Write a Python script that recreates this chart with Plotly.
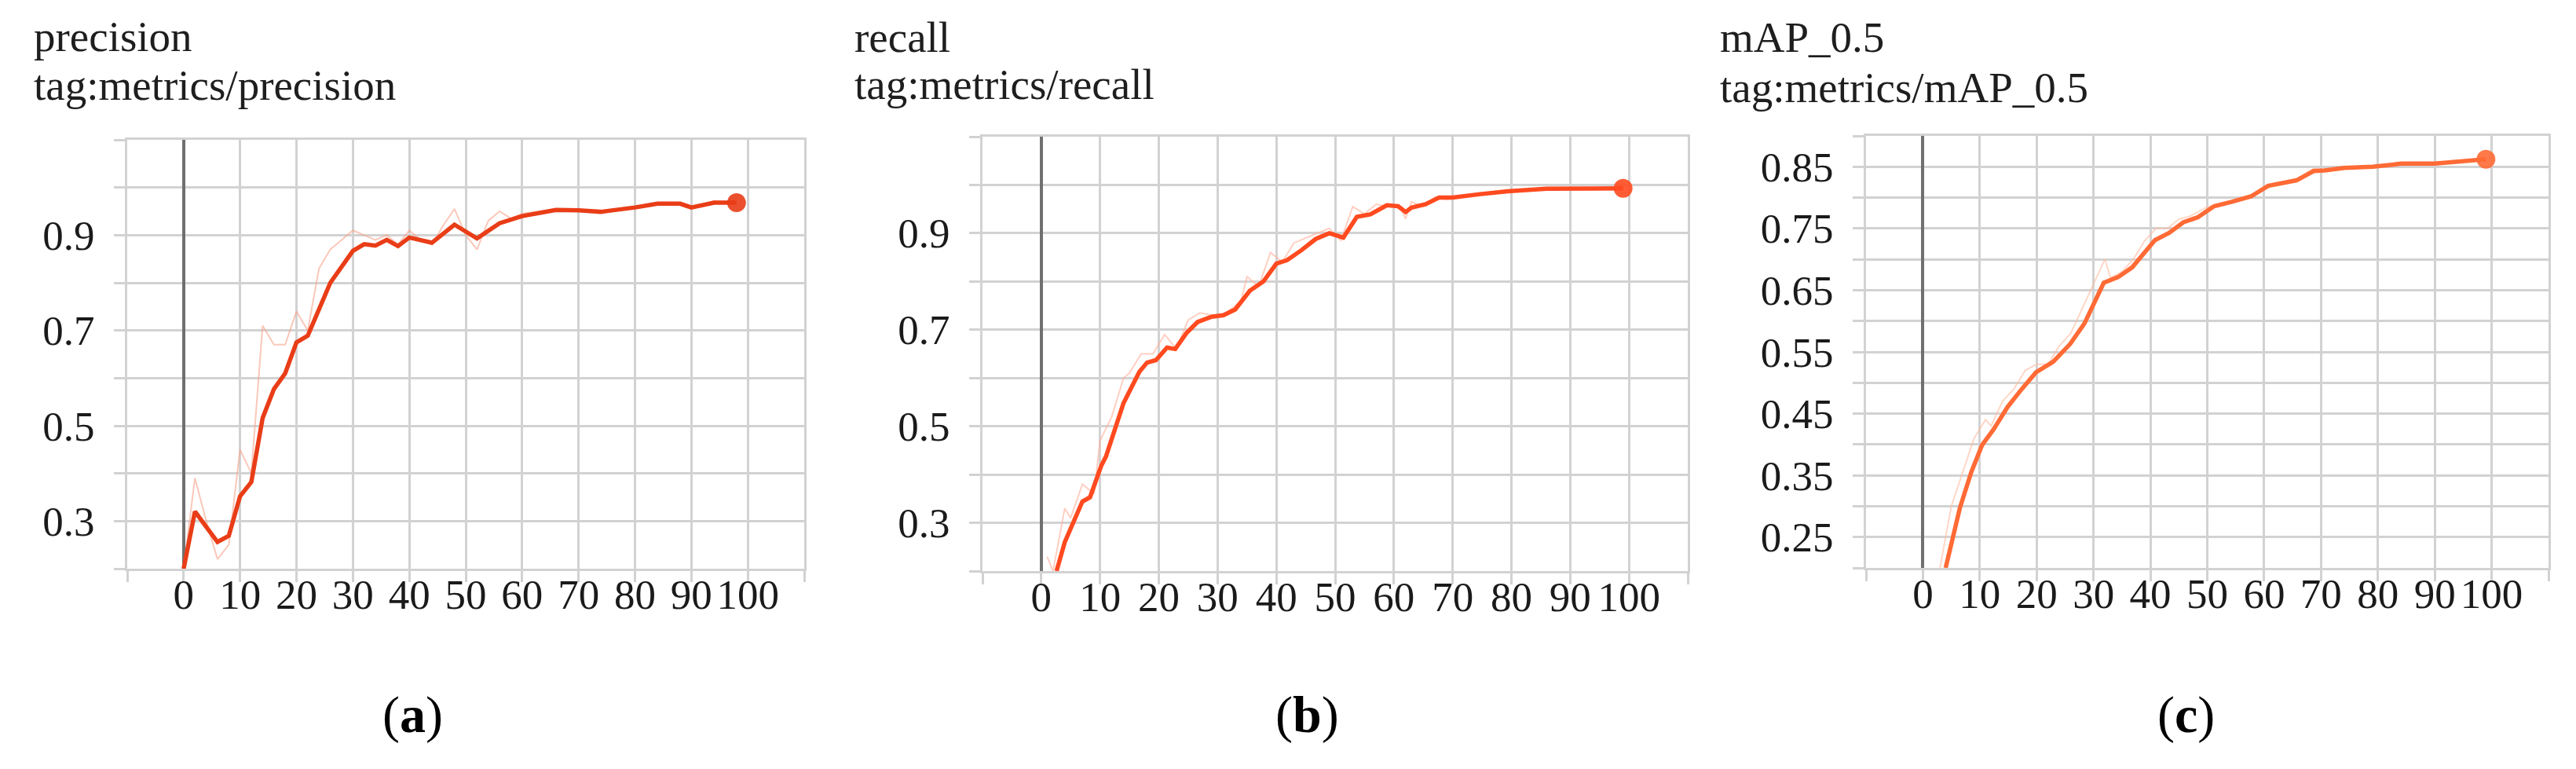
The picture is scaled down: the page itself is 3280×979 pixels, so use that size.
import plotly.graph_objects as go

W, H = 3280, 979

# ---------------- data ----------------
# (a) precision
prec_epoch = [0, 2, 6, 8, 10, 12, 14, 16, 18, 20, 22, 26, 30, 32, 34, 36, 38, 40, 44, 48, 52, 56, 60, 66, 70, 74, 80, 84, 88, 90, 94, 98]
prec_smooth = [0.20, 0.32, 0.256, 0.269, 0.352, 0.382, 0.516, 0.577, 0.61, 0.675, 0.689, 0.80, 0.867, 0.881, 0.878, 0.89, 0.877, 0.895, 0.884, 0.922, 0.893, 0.925, 0.94, 0.953, 0.952, 0.949, 0.958, 0.966, 0.966, 0.958, 0.968, 0.968]
prec_raw_epoch = [0, 2, 4, 6, 8, 10, 12, 14, 16, 18, 20, 22, 24, 26, 28, 30, 32, 34, 36, 38, 40, 42, 44, 46, 48, 50, 52, 54, 56, 58, 60, 66, 70, 74, 80, 84, 88, 90, 94, 98]
prec_raw = [0.20, 0.39, 0.30, 0.22, 0.25, 0.45, 0.40, 0.71, 0.67, 0.67, 0.74, 0.70, 0.83, 0.87, 0.89, 0.91, 0.90, 0.89, 0.90, 0.88, 0.91, 0.89, 0.88, 0.92, 0.955, 0.90, 0.87, 0.93, 0.95, 0.935, 0.945, 0.955, 0.95, 0.945, 0.96, 0.968, 0.964, 0.955, 0.972, 0.97]

# (b) recall
rec_epoch = [2.6, 4, 7, 8.3, 10.2, 11, 14, 16.7, 18, 19.5, 21.4, 22.8, 24.7, 26.6, 29, 31, 33, 35.5, 37.8, 40, 41.8, 44.3, 46.7, 49, 51.4, 53.7, 56, 58.8, 60.7, 62, 63, 65.4, 67.7, 70, 74.7, 79.4, 86, 90.6, 99]
rec_smooth = [0.20, 0.26, 0.344, 0.353, 0.418, 0.437, 0.548, 0.613, 0.632, 0.637, 0.663, 0.66, 0.693, 0.716, 0.727, 0.73, 0.742, 0.781, 0.80, 0.837, 0.844, 0.865, 0.888, 0.90, 0.891, 0.934, 0.939, 0.958, 0.956, 0.944, 0.953, 0.96, 0.974, 0.974, 0.981, 0.987, 0.992, 0.993, 0.993]
rec_raw_epoch = [1, 2, 4, 5, 7, 9, 10, 12, 14, 15, 17, 19, 21, 23, 25, 27, 29, 31, 34, 35, 37, 39, 41, 43, 45, 47, 49, 51, 53, 55, 57, 59, 61, 62, 63, 65, 67, 69, 74.7, 79.4, 86, 90.6, 99]
rec_raw = [0.23, 0.20, 0.33, 0.31, 0.38, 0.36, 0.47, 0.52, 0.60, 0.61, 0.65, 0.65, 0.69, 0.66, 0.72, 0.735, 0.73, 0.73, 0.76, 0.81, 0.79, 0.86, 0.84, 0.88, 0.89, 0.90, 0.91, 0.885, 0.955, 0.94, 0.96, 0.955, 0.955, 0.93, 0.965, 0.955, 0.975, 0.97, 0.982, 0.988, 0.992, 0.993, 0.993]

# (c) mAP_0.5
map_epoch = [4, 6.5, 8.5, 10.4, 12.4, 14.9, 17.4, 19.9, 22.9, 25.9, 28.4, 30.3, 31.8, 34.3, 36.8, 38.8, 40.8, 43.3, 45.8, 48.3, 51.2, 54.2, 57.7, 60.7, 63.2, 65.7, 68.7, 70.6, 74.1, 79.1, 84.1, 90, 99]
map_smooth = [0.20, 0.297, 0.355, 0.399, 0.424, 0.461, 0.49, 0.517, 0.534, 0.563, 0.596, 0.632, 0.662, 0.671, 0.687, 0.709, 0.731, 0.743, 0.76, 0.768, 0.786, 0.793, 0.802, 0.819, 0.824, 0.828, 0.843, 0.844, 0.848, 0.85, 0.855, 0.855, 0.862]
map_raw_epoch = [3, 5, 7, 9, 11, 12, 14, 16, 18, 20, 22, 24, 26, 28, 30, 32, 33, 35, 37, 39, 41, 43, 45, 47, 50, 53, 57.7, 60.7, 63.2, 65.7, 68.7, 70.6, 74.1, 79.1, 84.1, 90, 99]
map_raw = [0.20, 0.30, 0.355, 0.41, 0.44, 0.43, 0.47, 0.49, 0.52, 0.53, 0.53, 0.56, 0.58, 0.62, 0.66, 0.70, 0.67, 0.68, 0.70, 0.73, 0.75, 0.75, 0.765, 0.77, 0.785, 0.79, 0.803, 0.82, 0.825, 0.83, 0.847, 0.845, 0.848, 0.851, 0.856, 0.856, 0.862]

# axis ticks
x_tick_vals = [-10, 0, 10, 20, 30, 40, 50, 60, 70, 80, 90, 100, 110]
x_tick_text = ["", "0", "10", "20", "30", "40", "50", "60", "70", "80", "90", "100", ""]
y_ab_vals = [0.2, 0.3, 0.4, 0.5, 0.6, 0.7, 0.8, 0.9, 1.0, 1.1]
y_ab_text = ["", "0.3", "", "0.5", "", "0.7", "", "0.9", "", ""]
y_c_vals = [0.2, 0.25, 0.3, 0.35, 0.4, 0.45, 0.5, 0.55, 0.6, 0.65, 0.7, 0.75, 0.8, 0.85, 0.9]
y_c_text = ["", "0.25", "", "0.35", "", "0.45", "", "0.55", "", "0.65", "", "0.75", "", "0.85", ""]

panel_titles = [("precision", "tag:metrics/precision"), ("recall", "tag:metrics/recall"), ("mAP_0.5", "tag:metrics/mAP_0.5")]
panel_labels = ["(<b>a</b>)", "(<b>b</b>)", "(<b>c</b>)"]

# ---------------- layout geometry (pixels) ----------------
def px(x):
    return x / W

def py(y):
    return 1 - y / H

panels = [
    dict(x0=154, x1=1016, y0=170, y1=716, yr=[0.2, 1.1], yv=y_ab_vals, yt=y_ab_text,
         ex=prec_epoch, ey=prec_smooth, rx=prec_raw_epoch, ry=prec_raw,
         color="#e93d17", raw="#f7a48c", tx=33, ty1=38, ty2=101, lab=517),
    dict(x0=1243, x1=2141, y0=166, y1=719, yr=[0.2, 1.1], yv=y_ab_vals, yt=y_ab_text,
         ex=rec_epoch, ey=rec_smooth, rx=rec_raw_epoch, ry=rec_raw,
         color="#ff4a1f", raw="#ffb09a", tx=1078, ty1=39, ty2=100, lab=1656),
    dict(x0=2368, x1=3237, y0=165, y1=715, yr=[0.2, 0.9], yv=y_c_vals, yt=y_c_text,
         ex=map_epoch, ey=map_smooth, rx=map_raw_epoch, ry=map_raw,
         color="#ff6a35", raw="#ffbda3", tx=2180, ty1=40, ty2=104, lab=2775),
]

fig = go.Figure()
font_family = "Liberation Serif, Times New Roman, serif"
grid = "#d2d2d2"

annotations = []
for i, p in enumerate(panels):
    sfx = "" if i == 0 else str(i + 1)
    xa, ya = "x" + sfx, "y" + sfx
    fig.add_trace(go.Scatter(x=p["rx"], y=p["ry"], mode="lines", xaxis=xa, yaxis=ya,
                             line=dict(color=p["raw"], width=2), opacity=0.6,
                             showlegend=False, hoverinfo="skip"))
    fig.add_trace(go.Scatter(x=p["ex"], y=p["ey"], mode="lines", xaxis=xa, yaxis=ya,
                             line=dict(color=p["color"], width=5.5),
                             showlegend=False))
    fig.add_trace(go.Scatter(x=[p["ex"][-1]], y=[p["ey"][-1]], mode="markers", xaxis=xa, yaxis=ya,
                             marker=dict(color=p["color"], size=24, opacity=0.9),
                             showlegend=False))
    xkey, ykey = "xaxis" + sfx, "yaxis" + sfx
    fig.layout[xkey] = dict(domain=[px(p["x0"]), px(p["x1"])], range=[-10, 110], anchor=ya,
                            tickmode="array", tickvals=x_tick_vals, ticktext=x_tick_text,
                            showgrid=True, gridcolor=grid, gridwidth=3,
                            ticks="outside", ticklen=14, tickwidth=3, tickcolor=grid,
                            ticklabelstandoff=-30,
                            zeroline=True, zerolinecolor="#707070", zerolinewidth=4,
                            showline=True, mirror=True, linecolor=grid, linewidth=3,
                            tickfont=dict(family=font_family, size=53, color="#1a1a1a"))
    fig.layout[ykey] = dict(domain=[py(p["y1"]), py(p["y0"])], range=p["yr"], anchor=xa,
                            tickmode="array", tickvals=p["yv"], ticktext=p["yt"],
                            showgrid=True, gridcolor=grid, gridwidth=3,
                            ticks="outside", ticklen=14, tickwidth=3, tickcolor=grid,
                            ticklabelstandoff=14,
                            zeroline=False,
                            showline=True, mirror=True, linecolor=grid, linewidth=3,
                            tickfont=dict(family=font_family, size=53, color="#1a1a1a"))
    annotations.append(dict(text=panel_titles[i][0], x=px(p["tx"]), y=py(p["ty1"]), xref="paper", yref="paper",
                            xanchor="left", yanchor="middle", showarrow=False,
                            font=dict(family=font_family, size=55, color="#1e1e1e")))
    annotations.append(dict(text=panel_titles[i][1], x=px(p["tx"]), y=py(p["ty2"]), xref="paper", yref="paper",
                            xanchor="left", yanchor="middle", showarrow=False,
                            font=dict(family=font_family, size=55, color="#1e1e1e")))
    annotations.append(dict(text=panel_labels[i], x=px(p["lab"]), y=py(902), xref="paper", yref="paper",
                            xanchor="center", yanchor="middle", showarrow=False,
                            font=dict(family=font_family, size=66, color="#000000")))

fig.update_layout(width=W, height=H, margin=dict(l=0, r=0, t=0, b=0),
                  paper_bgcolor="white", plot_bgcolor="white",
                  annotations=annotations, showlegend=False)

fig.write_html("out.html")
